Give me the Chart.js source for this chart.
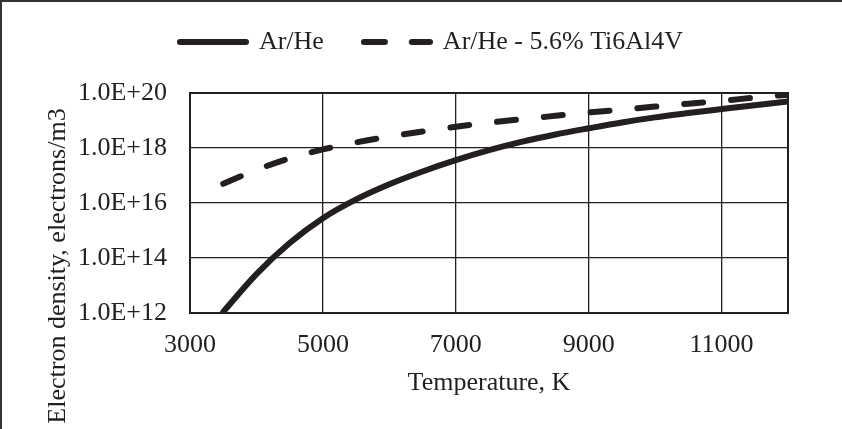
<!DOCTYPE html>
<html>
<head>
<meta charset="utf-8">
<script src="https://cdn.jsdelivr.net/npm/chart.js@4.4.0/dist/chart.umd.min.js"></script>
<style>
  html, body { margin: 0; padding: 0; background: #fff; overflow: hidden; }
  #frame { position: absolute; left: 0; top: 0; width: 900px; height: 500px;
           border-left: 2px solid #333; border-top: 2px solid #333; }
  #wrap { position: absolute; left: 0; top: 0; width: 842px; height: 429px; }
</style>
</head>
<body>
<div id="frame"></div>
<div id="wrap"><canvas id="chart"></canvas></div>
<script>
// temperature, K
var temps = [3500, 4000, 4500, 5000, 5500, 6000, 6500, 7000, 7500, 8000, 8500, 9000, 9500, 10000, 10500, 11000, 11500, 12000];
// electron density, electrons/m3
var arHe = [1.1e12, 2.6e13, 3.5e14, 2.8e15, 1.35e16, 4.8e16, 1.4e17, 3.6e17, 8.3e17, 1.7e18, 3.1e18, 5.2e18, 8.5e18, 1.3e19, 1.86e19, 2.6e19, 3.6e19, 4.9e19];
var arHeTi = [5.0e16, 1.6e17, 4.2e17, 8.9e17, 1.6e18, 2.6e18, 4.0e18, 5.9e18, 8.3e18, 1.12e19, 1.48e19, 1.95e19, 2.5e19, 3.2e19, 4.1e19, 5.2e19, 6.8e19, 8.7e19];
var seriesNames = ["Ar/He", "Ar/He - 5.6% Ti6Al4V"];
var xTicks = [3000, 5000, 7000, 9000, 11000];
var yTicks = [1e12, 1e14, 1e16, 1e18, 1e20];
var xTitle = "Temperature, K";
var yTitle = "Electron density, electrons/m3";

var ink = "#231f20";
var serif = "'Liberation Serif', 'Times New Roman', serif";

function pts(ys) {
  return temps.map(function (t, i) { return {x: t, y: ys[i]}; });
}

// small line sample for the legend (solid or dashed)
function legendLine(dashed) {
  var c = document.createElement("canvas");
  c.width = 72; c.height = 8;
  var g = c.getContext("2d");
  g.strokeStyle = ink;
  g.lineWidth = 6;
  g.lineCap = "round";
  if (dashed) g.setLineDash([21, 27]);
  g.beginPath();
  g.moveTo(3, 4);
  g.lineTo(69, 4);
  g.stroke();
  return c;
}

// legend needs extra room below it before the plot starts
var legendGap = {
  id: 'legendGap',
  beforeLayout: function (chart) {
    var lg = chart.legend;
    if (lg && !lg._gapPatched) {
      var fit = lg.fit;
      lg.fit = function () { fit.call(this); this.height += 28; };
      lg._gapPatched = true;
    }
  }
};

// plot frame + y axis title
var extras = {
  id: 'extras',
  afterDraw: function (chart) {
    var ctx = chart.ctx, a = chart.chartArea;
    ctx.save();
    ctx.strokeStyle = ink;
    ctx.lineWidth = 2;
    ctx.strokeRect(a.left, a.top, a.right - a.left, a.bottom - a.top);
    ctx.translate(65, 266);
    ctx.rotate(-Math.PI / 2);
    ctx.fillStyle = ink;
    ctx.font = "26px " + serif;
    ctx.textAlign = "center";
    ctx.textBaseline = "alphabetic";
    ctx.fillText(yTitle, 0, 0);
    ctx.restore();
  }
};

var ctx = document.getElementById("chart");
var chart = new Chart(ctx, {
  type: 'line',
  data: {
    datasets: [{
      label: seriesNames[0],
      data: pts(arHe),
      borderColor: ink,
      backgroundColor: ink,
      borderWidth: 6,
      borderCapStyle: 'round',
      pointRadius: 0,
      pointStyle: legendLine(false),
      cubicInterpolationMode: 'monotone'
    }, {
      label: seriesNames[1],
      data: pts(arHeTi),
      borderColor: ink,
      backgroundColor: ink,
      borderWidth: 6,
      borderDash: [19, 28],
      borderCapStyle: 'round',
      pointRadius: 0,
      pointStyle: legendLine(true),
      cubicInterpolationMode: 'monotone'
    }]
  },
  options: {
    responsive: true,
    maintainAspectRatio: false,
    animation: false,
    layout: { padding: { left: 75, right: 54, top: -11, bottom: 0 } },
    plugins: {
      tooltip: { enabled: false },
      legend: {
        position: 'top',
        labels: {
          usePointStyle: true,
          pointStyleWidth: 66,
          padding: 40,
          color: ink,
          font: { family: serif, size: 26 }
        }
      }
    },
    scales: {
      x: {
        type: 'linear',
        min: 3000,
        max: 12000,
        afterBuildTicks: function (s) { s.ticks = xTicks.map(function (v) { return {value: v}; }); },
        afterFit: function (s) { s.height = 116; },
        grid: { color: ink, lineWidth: 1.3, drawTicks: false },
        border: { display: false },
        ticks: {
          color: ink, padding: 17, maxRotation: 0,
          font: { family: serif, size: 26 },
          callback: function (v) { return String(v); }
        },
        title: { display: true, text: xTitle, color: ink, padding: { top: 0, bottom: 30 }, font: { family: serif, size: 26 } }
      },
      y: {
        type: 'logarithmic',
        min: 1e12,
        max: 1e20,
        afterBuildTicks: function (s) { s.ticks = yTicks.map(function (v) { return {value: v}; }); },
        afterFit: function (s) { s.width = 115; },
        grid: { color: ink, lineWidth: 1.3, drawTicks: false },
        border: { display: false },
        ticks: {
          color: ink,
          padding: 23,
          font: { family: serif, size: 26 },
          callback: function (v) { return Number(v).toExponential(1).toUpperCase(); }
        }
      }
    }
  },
  plugins: [legendGap, extras]
});
</script>
</body>
</html>
